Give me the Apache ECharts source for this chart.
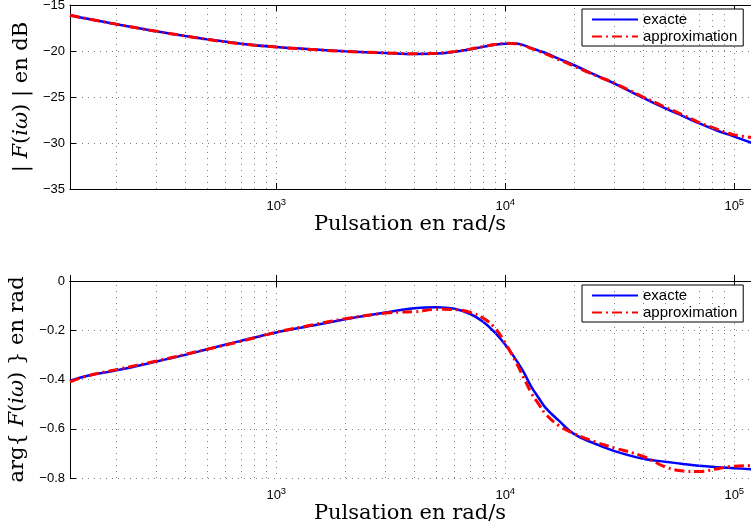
<!DOCTYPE html>
<html>
<head>
<meta charset="utf-8">
<script src="https://cdn.jsdelivr.net/npm/echarts@6/dist/echarts.min.js"></script>
<style>
  html, body { margin: 0; padding: 0; background: #fff; }
  #chart { width: 751px; height: 527px; }
</style>
</head>
<body>
<div id="chart"></div>
<script>
// pulsation (rad/s), de 2*pi*20 a 2*pi*20000
const omega = [125.66, 150, 200, 300, 400, 500, 700, 1000, 1500, 2000, 3000, 3500, 4000, 5000, 6000, 7000, 8000, 9000,
  10000, 11000, 12000, 13000, 14000, 15000, 17000, 20000, 25000, 30000, 40000, 50000, 60000, 70000, 85000, 100000, 125664];

const magExacte = [-16.12, -16.5, -17.10, -17.86, -18.37, -18.73, -19.2, -19.57, -19.85, -20.03, -20.22, -20.3, -20.32, -20.28, -20.08, -19.82, -19.55, -19.33,
  -19.2, -19.18, -19.36, -19.68, -19.96, -20.22, -20.8, -21.55, -22.65, -23.54, -25.1, -26.24, -27.1, -27.85, -28.7, -29.3, -30.2];
const magApprox = [-16.12, -16.5, -17.08, -17.86, -18.36, -18.74, -19.22, -19.57, -19.87, -20.05, -20.2, -20.27, -20.3, -20.25, -20.05, -19.8, -19.52, -19.3,
  -19.17, -19.2, -19.4, -19.72, -20.02, -20.3, -20.9, -21.65, -22.7, -23.5, -25.0, -26.1, -26.98, -27.75, -28.55, -29.12, -29.45];

const phaseExacte = [-0.405, -0.385, -0.363, -0.327, -0.300, -0.277, -0.243, -0.209, -0.178, -0.155, -0.128, -0.118, -0.111, -0.107, -0.113, -0.133, -0.165, -0.209,
  -0.259, -0.312, -0.368, -0.43, -0.475, -0.515, -0.564, -0.622, -0.663, -0.691, -0.722, -0.734, -0.743, -0.750, -0.756, -0.760, -0.766];
const phaseApprox = [-0.41, -0.385, -0.36, -0.325, -0.298, -0.277, -0.245, -0.208, -0.175, -0.153, -0.13, -0.126, -0.125, -0.115, -0.116, -0.127, -0.150, -0.19,
  -0.252, -0.32, -0.39, -0.455, -0.50, -0.54, -0.585, -0.620, -0.655, -0.678, -0.712, -0.755, -0.772, -0.774, -0.762, -0.752, -0.75];

const magTicks = [-35, -30, -25, -20, -15];
const phaseTicks = [-0.8, -0.6, -0.4, -0.2, 0];
const decades = [1000, 10000, 100000];
const omegaMin = 2 * Math.PI * 20;
const omegaMax = 2 * Math.PI * 20000;

const serif = 'DejaVu Serif';
const sans = 'Liberation Sans';
const gridColor = '#808080';

function pairs(ys) {
  return omega.map((w, i) => [w, ys[i]]);
}

// grille mineure (2..9 x 10^n), comme sous matlab
const minorLines = [];
for (let d = 100; d <= 100000; d *= 10) {
  for (let k = 2; k <= 9; k++) {
    const v = k * d;
    if (v > omegaMin && v < omegaMax) minorLines.push({ xAxis: v });
  }
}

function decadeLabel(v) {
  const lg = Math.log10(v);
  const e = Math.round(lg);
  if (Math.abs(lg - e) > 1e-6 || decades.indexOf(Math.pow(10, e)) < 0) return '';
  return '{b|10}{s|' + e + '}';
}

function minus(s) {
  return String(s).replace('-', '\u2212');
}

function bottomAxis(gridIndex) {
  return {
    gridIndex: gridIndex,
    type: 'log',
    min: omegaMin,
    max: omegaMax,
    name: 'Pulsation en rad/s',
    nameLocation: 'middle',
    nameGap: 19,
    nameTextStyle: { fontFamily: serif, fontSize: 21, color: '#000', verticalAlign: 'top', padding: [0, 7, 0, 0] },
    axisLine: { show: true, lineStyle: { color: '#000', width: 1 } },
    axisTick: { inside: true, length: 6, lineStyle: { color: '#000' } },
    axisLabel: {
      margin: 8,
      color: '#000',
      formatter: decadeLabel,
      rich: {
        b: { fontFamily: sans, fontSize: 13, lineHeight: 16, verticalAlign: 'bottom' },
        s: { fontFamily: sans, fontSize: 9.5, lineHeight: 16, verticalAlign: 'top' }
      }
    },
    splitLine: { show: true, lineStyle: { color: gridColor, type: [1, 5], width: 1 } }
  };
}

function topAxis(gridIndex) {
  return {
    gridIndex: gridIndex,
    type: 'log',
    position: 'top',
    min: omegaMin,
    max: omegaMax,
    axisLine: { show: true, lineStyle: { color: '#000', width: 1 } },
    axisTick: { inside: true, length: 6, lineStyle: { color: '#000' } },
    axisLabel: { show: false },
    splitLine: { show: false }
  };
}

function valueAxis(gridIndex, ticks, name, fmt) {
  return {
    gridIndex: gridIndex,
    type: 'value',
    min: ticks[0],
    max: ticks[ticks.length - 1],
    interval: ticks[1] - ticks[0],
    name: name,
    nameLocation: 'middle',
    nameGap: 36,
    nameTextStyle: {
      fontFamily: serif, fontSize: 21, color: '#000',
      rich: { i: { fontFamily: serif, fontSize: 21, fontStyle: 'italic', color: '#000' } }
    },
    axisLine: { show: true, lineStyle: { color: '#000', width: 1 } },
    axisTick: { inside: true, length: 6, lineStyle: { color: '#000' } },
    axisLabel: { fontFamily: sans, fontSize: 13, color: '#000', margin: 5, formatter: fmt },
    splitLine: { show: true, lineStyle: { color: gridColor, type: [1, 5], width: 1 } }
  };
}

function legendAt(top) {
  return {
    data: ['exacte', 'approximation'],
    orient: 'vertical',
    left: 582,
    top: top,
    padding: [3, 6, 2, 9],
    itemGap: 2,
    itemWidth: 46,
    itemHeight: 14,
    borderColor: '#000',
    borderWidth: 1,
    borderRadius: 0,
    backgroundColor: '#fff',
    itemStyle: { color: 'rgba(0,0,0,0)', borderWidth: 0, opacity: 0 },
    textStyle: { fontFamily: sans, fontSize: 15, lineHeight: 15, color: '#000' }
  };
}

function curve(name, ys, axisIndex, approx) {
  const s = {
    name: name,
    type: 'line',
    xAxisIndex: axisIndex * 2,
    yAxisIndex: axisIndex,
    data: pairs(ys),
    symbol: 'none',
    smooth: 0.4,
    lineStyle: approx
      ? { color: '#ff0000', width: 3, type: [10, 4, 2, 4] }
      : { color: '#0000ff', width: 2.5 },
    itemStyle: { color: approx ? '#ff0000' : '#0000ff' },
    z: approx ? 4 : 3
  };
  if (!approx) {
    s.markLine = {
      silent: true,
      symbol: ['none', 'none'],
      label: { show: false },
      lineStyle: { color: gridColor, type: [1, 5], width: 1 },
      data: minorLines
    };
  }
  return s;
}

const option = {
  animation: false,
  backgroundColor: '#fff',
  legend: [legendAt(9), legendAt(285)],
  grid: [
    { left: 70, top: 5, width: 687, height: 184, containLabel: false, outerBoundsMode: 'none' },
    { left: 70, top: 281, width: 687, height: 197, containLabel: false, outerBoundsMode: 'none' }
  ],
  xAxis: [bottomAxis(0), topAxis(0), bottomAxis(1), topAxis(1)],
  yAxis: [
    valueAxis(0, magTicks, '| {i|F}({i|iω}) | en dB', (v) => minus(v)),
    valueAxis(1, phaseTicks, 'arg{ {i|F}({i|iω}) } en rad', (v) => minus(Number(v.toFixed(1))))
  ],
  series: [
    curve('exacte', magExacte, 0, false),
    curve('approximation', magApprox, 0, true),
    curve('exacte', phaseExacte, 1, false),
    curve('approximation', phaseApprox, 1, true)
  ]
};

const chart = echarts.init(document.getElementById('chart'));
chart.setOption(option);
</script>
</body>
</html>
